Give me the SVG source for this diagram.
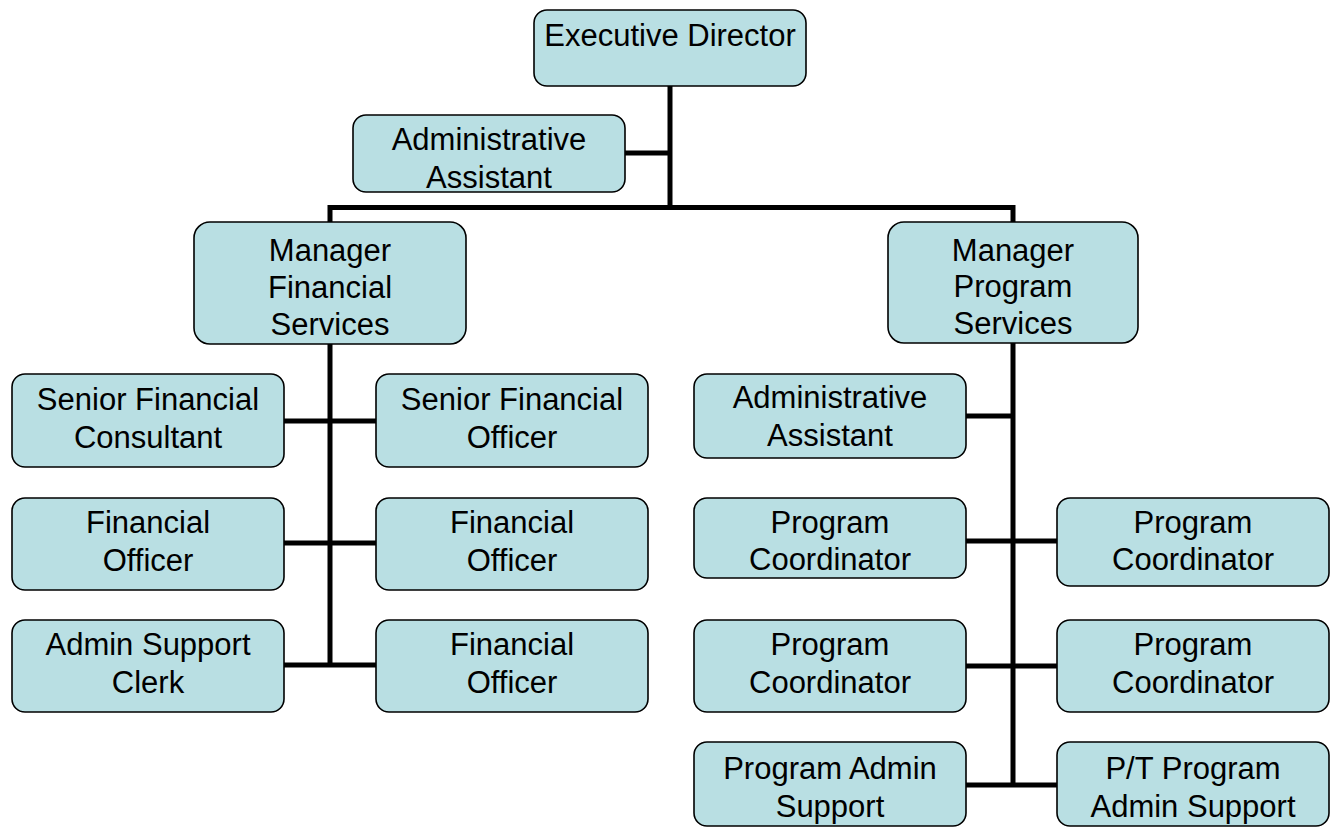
<svg xmlns="http://www.w3.org/2000/svg" width="1335" height="828" viewBox="0 0 1335 828">
<style>
.box{fill:#B9DFE3;stroke:#000;stroke-width:1.6}
.t{font-family:"Liberation Sans",Arial,sans-serif;font-size:31px;fill:#000;text-anchor:middle}
.c{fill:none;stroke:#000;stroke-width:5}
</style>
<rect width="1335" height="828" fill="#fff"/>
<g id="connectors">
<path class="c" d="M670 86V207.5"/>
<path class="c" d="M625 153H670"/>
<path class="c" d="M330 222V207.5H1013V222"/>
<path class="c" d="M330 344V667"/>
<path class="c" d="M284 421H376"/>
<path class="c" d="M284 543H376"/>
<path class="c" d="M284 665H376"/>
<path class="c" d="M1013 342V787"/>
<path class="c" d="M966 416H1013"/>
<path class="c" d="M966 541H1057"/>
<path class="c" d="M966 666H1057"/>
<path class="c" d="M966 785H1057"/>
</g>
<g id="executive-director">
<rect class="box" x="534" y="10" width="272" height="76" rx="13"/>
<text class="t" x="670" y="46">Executive Director</text>
</g>
<g id="admin-assistant-top">
<rect class="box" x="353" y="115" width="272" height="77" rx="13"/>
<text class="t" x="489" y="150">Administrative</text>
<text class="t" x="489" y="188">Assistant</text>
</g>
<g id="manager-financial">
<rect class="box" x="194" y="222" width="272" height="122" rx="16"/>
<text class="t" x="330" y="261">Manager</text>
<text class="t" x="330" y="298">Financial</text>
<text class="t" x="330" y="335">Services</text>
</g>
<g id="manager-program">
<rect class="box" x="888" y="222" width="250" height="121" rx="16"/>
<text class="t" x="1013" y="261">Manager</text>
<text class="t" x="1013" y="297">Program</text>
<text class="t" x="1013" y="334">Services</text>
</g>
<g id="senior-financial-consultant">
<rect class="box" x="12" y="374" width="272" height="93" rx="13"/>
<text class="t" x="148" y="410">Senior Financial</text>
<text class="t" x="148" y="448">Consultant</text>
</g>
<g id="senior-financial-officer">
<rect class="box" x="376" y="374" width="272" height="93" rx="13"/>
<text class="t" x="512" y="410">Senior Financial</text>
<text class="t" x="512" y="448">Officer</text>
</g>
<g id="financial-officer-1">
<rect class="box" x="12" y="498" width="272" height="92" rx="13"/>
<text class="t" x="148" y="533">Financial</text>
<text class="t" x="148" y="571">Officer</text>
</g>
<g id="financial-officer-2">
<rect class="box" x="376" y="498" width="272" height="92" rx="13"/>
<text class="t" x="512" y="533">Financial</text>
<text class="t" x="512" y="571">Officer</text>
</g>
<g id="admin-support-clerk">
<rect class="box" x="12" y="620" width="272" height="92" rx="13"/>
<text class="t" x="148" y="655">Admin Support</text>
<text class="t" x="148" y="693">Clerk</text>
</g>
<g id="financial-officer-3">
<rect class="box" x="376" y="620" width="272" height="92" rx="13"/>
<text class="t" x="512" y="655">Financial</text>
<text class="t" x="512" y="693">Officer</text>
</g>
<g id="admin-assistant-program">
<rect class="box" x="694" y="374" width="272" height="84" rx="13"/>
<text class="t" x="830" y="408">Administrative</text>
<text class="t" x="830" y="446">Assistant</text>
</g>
<g id="program-coordinator-1">
<rect class="box" x="694" y="498" width="272" height="80" rx="13"/>
<text class="t" x="830" y="533">Program</text>
<text class="t" x="830" y="570">Coordinator</text>
</g>
<g id="program-coordinator-2">
<rect class="box" x="1057" y="498" width="272" height="88" rx="13"/>
<text class="t" x="1193" y="533">Program</text>
<text class="t" x="1193" y="570">Coordinator</text>
</g>
<g id="program-coordinator-3">
<rect class="box" x="694" y="620" width="272" height="92" rx="13"/>
<text class="t" x="830" y="655">Program</text>
<text class="t" x="830" y="693">Coordinator</text>
</g>
<g id="program-coordinator-4">
<rect class="box" x="1057" y="620" width="272" height="92" rx="13"/>
<text class="t" x="1193" y="655">Program</text>
<text class="t" x="1193" y="693">Coordinator</text>
</g>
<g id="program-admin-support">
<rect class="box" x="694" y="742" width="272" height="84" rx="13"/>
<text class="t" x="830" y="779">Program Admin</text>
<text class="t" x="830" y="817">Support</text>
</g>
<g id="pt-program-admin-support">
<rect class="box" x="1057" y="742" width="272" height="84" rx="13"/>
<text class="t" x="1193" y="779">P/T Program</text>
<text class="t" x="1193" y="817">Admin Support</text>
</g>
</svg>
